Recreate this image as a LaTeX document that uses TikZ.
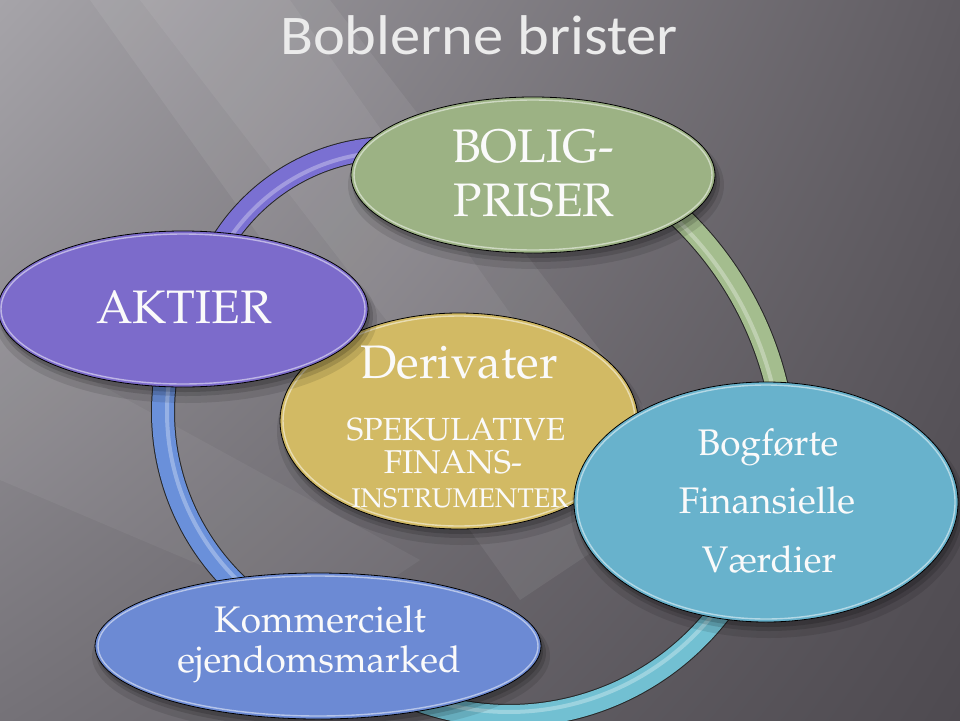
\documentclass[tikz,border=0pt]{standalone}
\usepackage[T1]{fontenc}
\usepackage{fontspec}
\newfontfamily\titlefont{Carlito}
\newcommand\pal{\fontencoding{T1}\fontfamily{ppl}\selectfont}
\usetikzlibrary{shapes.geometric,shadings}
\definecolor{cGreen}{HTML}{9CB284}
\definecolor{cPurple}{HTML}{7C6BCB}
\definecolor{cYellow}{HTML}{D2BA64}
\definecolor{cCyan}{HTML}{68B2CC}
\definecolor{cBlue}{HTML}{6C8AD4}
\definecolor{rPurple}{HTML}{7A70D2}
\definecolor{rGreen}{HTML}{A4BD8E}
\definecolor{rCyan}{HTML}{72C0D2}
\definecolor{rBlue}{HTML}{6A90DA}
\definecolor{bgUL}{HTML}{A6A4A9}
\definecolor{bgUR}{HTML}{605C62}
\definecolor{bgLL}{HTML}{757278}
\definecolor{bgLR}{HTML}{4E4A50}
\definecolor{txt}{HTML}{FAFAFA}
\tikzset{
  bubble/.style={ellipse, draw=black, line width=0.8pt, inner sep=0pt},
  lbl/.style={anchor=base, text=txt, inner sep=0pt}
}
% colour, cx, cy, r, start angle, end angle (screen angles, clockwise)
\newcommand\ringseg[6]{%
  \draw[line width=24pt, black!85] plot[domain=#5:#6, samples=60, smooth] ({#2+#4*cos(\x)},{#3+#4*sin(\x)});
  \draw[line width=22pt, #1] plot[domain=#5:#6, samples=60, smooth] ({#2+#4*cos(\x)},{#3+#4*sin(\x)});
  \draw[line width=4pt, white, opacity=0.3] plot[domain=#5:#6, samples=60, smooth] ({#2+(#4-4)*cos(\x)},{#3+(#4-4)*sin(\x)});
}
% name, x, y, rx, ry, colour
\newcommand\bubblenode[6]{%
  \fill[black, opacity=0.10] ({#2+3},{#3+10}) ellipse [x radius={#4+6}, y radius={#5+6}];
  \fill[black, opacity=0.14] ({#2+3},{#3+7}) ellipse [x radius={#4+2}, y radius={#5+2}];
  \fill[black, opacity=0.16] ({#2+2},{#3+5}) ellipse [x radius={#4}, y radius={#5}];
  \node[bubble, fill=#6, minimum width={2*#4 pt}, minimum height={2*#5 pt}] (#1) at (#2,#3) {};
  \draw[white, opacity=0.5, line width=1.4pt] (#1.center) ellipse [x radius={#4-3}, y radius={#5-3}];
}
\begin{document}
\begin{tikzpicture}[x=1pt,y=-1pt]
\useasboundingbox (0,0) rectangle (960,720);
% background
\shade[upper left=bgUL, upper right=bgUR, lower left=bgLL, lower right=bgLR] (0,0) rectangle (960,720);
\fill[white, opacity=0.07] (90,0) -- (330,0) -- (700,480) -- (520,600) -- cycle;
\fill[white, opacity=0.06] (140,0) -- (290,0) -- (620,470) -- (540,520) -- cycle;
\fill[white, opacity=0.05] (0,330) -- (0,480) -- (330,620) -- (420,560) -- cycle;
% ring
\ringseg{rPurple}{392}{348}{200}{205}{275}
\ringseg{rGreen}{441}{466}{345}{300}{352}
\ringseg{rCyan}{509}{450}{266}{30}{115}
\ringseg{rBlue}{403}{412}{240}{130}{195}
% bubbles
\bubblenode{deriv}{459}{421}{179}{108}{cYellow}
\bubblenode{bolig}{533}{175}{182}{78}{cGreen}
\bubblenode{aktier}{183}{309}{185}{78}{cPurple}
\bubblenode{bogf}{766}{502}{192}{120}{cCyan}
\bubblenode{komm}{318}{646}{223}{73}{cBlue}
% title
\node[lbl, text=white!92!black, font=\titlefont\fontsize{56pt}{60pt}\selectfont] (title) at (479,54) {\scalebox{1.08}[1]{Boblerne brister}};
% labels
\node[lbl, font=\pal\fontsize{47pt}{50pt}\selectfont] (t1) at (533,162) {BOLIG-};
\node[lbl, font=\pal\fontsize{47pt}{50pt}\selectfont] (t2) at (534,216) {PRISER};
\node[lbl, font=\pal\fontsize{47pt}{50pt}\selectfont] (t3) at (184,323) {AKTIER};
\node[lbl, font=\pal\fontsize{47pt}{50pt}\selectfont] (t4) at (459,378) {Derivater};
\node[lbl, font=\pal\fontsize{32pt}{34pt}\selectfont] (t5) at (456,440) {SPEKULATIVE};
\node[lbl, font=\pal\fontsize{33pt}{35pt}\selectfont] (t6) at (453,473) {FINANS-};
\node[lbl, font=\pal\fontsize{27pt}{29pt}\selectfont] (t7) at (460,507) {INSTRUMENTER};
\node[lbl, font=\pal\fontsize{37pt}{40pt}\selectfont] (t8) at (768,455) {Bogf\o rte};
\node[lbl, font=\pal\fontsize{37pt}{40pt}\selectfont] (t9) at (767,513) {Finansielle};
\node[lbl, font=\pal\fontsize{37pt}{40pt}\selectfont] (t10) at (769,572) {V\ae rdier};
\node[lbl, font=\pal\fontsize{37pt}{40pt}\selectfont] (t11) at (320,632) {Kommercielt};
\node[lbl, font=\pal\fontsize{37pt}{40pt}\selectfont] (t12) at (319,672) {ejendomsmarked};
\end{tikzpicture}
\end{document}
